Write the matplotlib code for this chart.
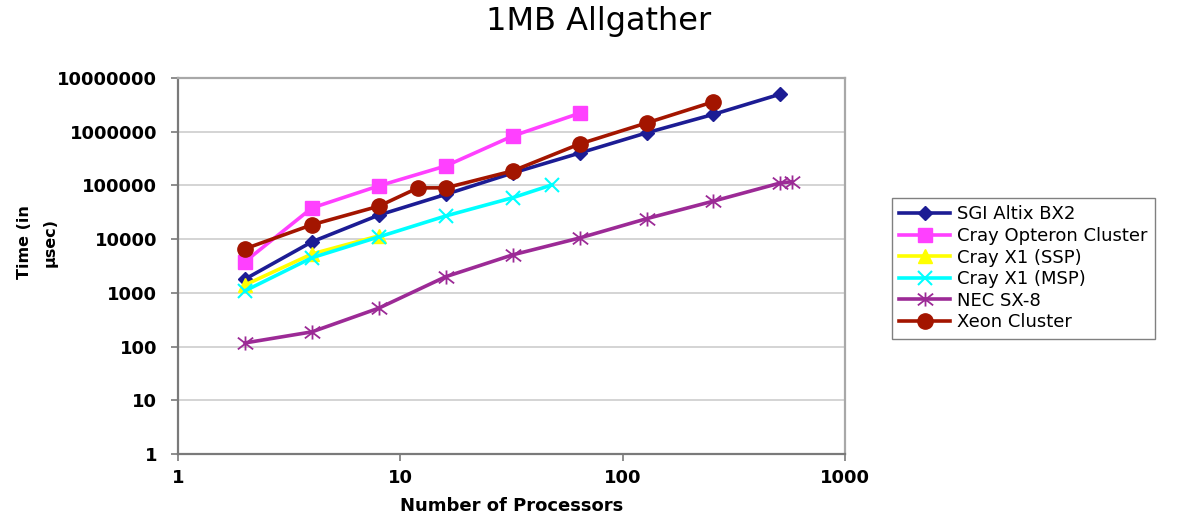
import matplotlib
matplotlib.use("Agg")
import matplotlib.pyplot as plt
from matplotlib.path import Path
from matplotlib.ticker import FixedLocator, FixedFormatter, NullLocator

# ---- data ----
procs_sgi = [2, 4, 8, 16, 32, 64, 128, 256, 512]
time_sgi = [1800, 8900, 28000, 68000, 170000, 400000, 950000, 2100000, 5000000]

procs_opteron = [2, 4, 8, 16, 32, 64]
time_opteron = [3800, 38000, 98000, 230000, 830000, 2200000]

procs_ssp = [2, 4, 8]
time_ssp = [1400, 5300, 11500]

procs_msp = [2, 4, 8, 16, 32, 48]
time_msp = [1090, 4500, 11000, 27000, 59000, 102000]

procs_nec = [2, 4, 8, 16, 32, 64, 128, 256, 512, 576]
time_nec = [117, 188, 520, 2000, 5100, 10500, 24000, 51000, 111000, 117000]

procs_xeon = [2, 4, 8, 12, 16, 32, 64, 128, 256]
time_xeon = [6600, 18500, 41000, 90000, 90000, 186000, 590000, 1450000, 3600000]

series_names = ["SGI Altix BX2", "Cray Opteron Cluster", "Cray X1 (SSP)",
                "Cray X1 (MSP)", "NEC SX-8", "Xeon Cluster"]

x_ticks = [1, 10, 100, 1000]
x_tick_labels = ["1", "10", "100", "1000"]
y_ticks = [1, 10, 100, 1000, 10000, 100000, 1000000, 10000000]
y_tick_labels = ["1", "10", "100", "1000", "10000", "100000", "1000000", "10000000"]

# asterisk marker (x with vertical bar)
star_marker = Path([(-1.3, -1), (1.3, 1), (-1.3, 1), (1.3, -1), (0, -1.2), (0, 1.2)],
                   [Path.MOVETO, Path.LINETO, Path.MOVETO, Path.LINETO,
                    Path.MOVETO, Path.LINETO])

fig = plt.figure(figsize=(11.98, 5.16), dpi=100)
ax = fig.add_axes([0.1486, 0.12, 0.5568, 0.729])

lw = 2.6
ax.plot(procs_sgi, time_sgi, color="#1C1C94", lw=lw, marker="D", ms=7.5,
        label=series_names[0], zorder=3)
ax.plot(procs_opteron, time_opteron, color="#FF40FF", lw=lw, marker="s", ms=10,
        label=series_names[1], zorder=3)
ax.plot(procs_ssp, time_ssp, color="#FFFF00", lw=lw, marker="^", ms=10,
        label=series_names[2], zorder=3)
ax.plot(procs_msp, time_msp, color="#00FFFF", lw=lw, marker="x", ms=10, mew=1.5,
        label=series_names[3], zorder=3)
ax.plot(procs_nec, time_nec, color="#9C2A96", lw=lw, marker=star_marker, ms=11,
        mew=1.3, mfc="none", label=series_names[4], zorder=3)
ax.plot(procs_xeon, time_xeon, color="#A31500", lw=lw, marker="o", ms=11,
        label=series_names[5], zorder=3)

ax.set_xscale("log")
ax.set_yscale("log")
ax.set_xlim(1, 1000)
ax.set_ylim(1, 10000000)

ax.xaxis.set_major_locator(FixedLocator(x_ticks))
ax.xaxis.set_major_formatter(FixedFormatter(x_tick_labels))
ax.xaxis.set_minor_locator(NullLocator())
ax.yaxis.set_major_locator(FixedLocator(y_ticks))
ax.yaxis.set_major_formatter(FixedFormatter(y_tick_labels))
ax.yaxis.set_minor_locator(NullLocator())

ax.grid(axis="y", color="#D4D4D4", lw=1.4, zorder=0)
ax.set_axisbelow(True)

for side in ["top", "right"]:
    ax.spines[side].set_color("#A8A8A8")
    ax.spines[side].set_linewidth(1.6)
for side in ["left", "bottom"]:
    ax.spines[side].set_color("#7A7A7A")
    ax.spines[side].set_linewidth(1.6)

ax.tick_params(axis="both", which="major", direction="out", length=5,
               width=1.2, color="#7A7A7A")
ax.tick_params(axis="y", pad=10)
ax.tick_params(axis="x", pad=6)
for lab in ax.get_xticklabels() + ax.get_yticklabels():
    lab.set_fontfamily("DejaVu Sans")
    lab.set_fontweight("bold")
    lab.set_fontsize(13)

ax.set_xlabel("Number of Processors", fontsize=13, fontweight="bold",
              family="DejaVu Sans", labelpad=7)

fig.text(0.031, 0.531, "Time (in\nµsec)", rotation=90, ha="center",
         va="center", multialignment="center", fontsize=11.5,
         fontweight="bold", family="DejaVu Sans", linespacing=1.9)

fig.text(0.5, 0.958, "1MB Allgather", ha="center", va="center",
         fontsize=23, family="DejaVu Sans")

leg = ax.legend(loc="upper left", bbox_to_anchor=(0.7446, 0.616),
                bbox_transform=fig.transFigure,
                frameon=True, fancybox=False, framealpha=1,
                edgecolor="#808080", labelspacing=0.2, handlelength=2.8,
                handletextpad=0.4, borderpad=0.4, borderaxespad=0,
                prop={"family": "DejaVu Sans", "size": 13})
leg.get_frame().set_linewidth(1.0)

fig.savefig("out.png", dpi=100)
